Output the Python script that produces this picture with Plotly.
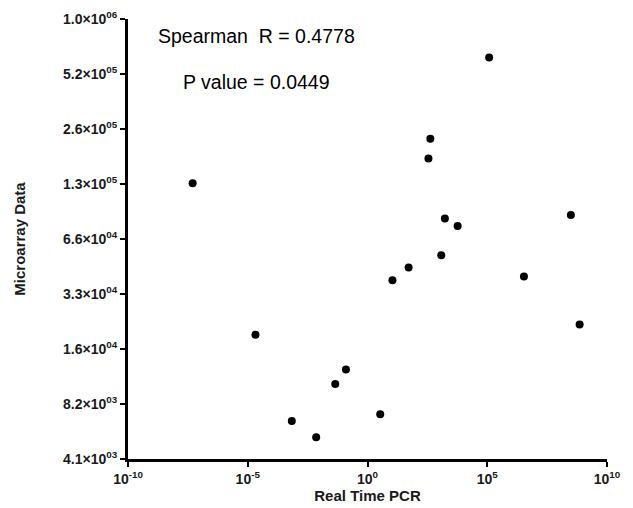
"""Microarray vs real-time PCR scatter (log-log)."""

import plotly.graph_objects as go

# data
pcr_values = [
    1.2e5, 4.2e2, 3.5e2, 5.0e-8, 1.7e3, 5.8e3, 3.1e8, 1.2e3, 5.2e1,
    1.1e1, 3.4e6, 7.2e8, 2.1e-5, 1.26e-1, 4.5e-2, 6.9e-4, 7.2e-3, 3.4e0,
]
microarray_values = [
    645000, 231800, 181000, 132300, 84800, 77300, 88800, 53400, 45700,
    39000, 40800, 22300, 19600, 12640, 10550, 6620, 5380, 7190,
]

y_tickvals = [4096 * 2 ** k for k in range(9)]
y_ticktext = [
    "4.1×10<sup>03</sup>", "8.2×10<sup>03</sup>", "1.6×10<sup>04</sup>",
    "3.3×10<sup>04</sup>", "6.6×10<sup>04</sup>", "1.3×10<sup>05</sup>",
    "2.6×10<sup>05</sup>", "5.2×10<sup>05</sup>", "1.0×10<sup>06</sup>",
]
x_tickvals = [1e-10, 1e-5, 1e0, 1e5, 1e10]
x_ticktext = ["10<sup>-10</sup>", "10<sup>-5</sup>", "10<sup>0</sup>",
              "10<sup>5</sup>", "10<sup>10</sup>"]

font_name = "Liberation Sans"

# page body has an 8px margin, so the figure is drawn 8px in from the corner
fig_w, fig_h = 625, 500
margin = {"l": 120, "r": 26, "t": 11, "b": 49}

fig = go.Figure()
fig.add_trace(
    go.Scatter(
        x=pcr_values,
        y=microarray_values,
        mode="markers",
        marker={"color": "black", "size": 8},
        showlegend=False,
        cliponaxis=False,
    )
)

axis_common = {
    "type": "log",
    "automargin": False,
    "showline": True,
    "linecolor": "black",
    "linewidth": 3,
    "ticks": "outside",
    "ticklen": 5,
    "tickwidth": 2,
    "tickcolor": "black",
    "showgrid": False,
    "zeroline": False,
    "tickfont": {"family": font_name, "size": 14, "color": "#1a1a1a", "weight": "bold"},
}

fig.update_layout(
    width=fig_w,
    height=fig_h,
    paper_bgcolor="white",
    plot_bgcolor="white",
    margin=margin,
    font={"family": font_name},
    xaxis={
        **axis_common,
        "range": [-10, 10],
        "tickvals": x_tickvals,
        "ticktext": x_ticktext,
        "title": {"text": "<b>Real Time PCR</b>",
                  "font": {"family": font_name, "size": 15, "color": "#1a1a1a"},
                  "standoff": 4},
    },
    yaxis={
        **axis_common,
        "range": [3.6124, 6.0206],
        "tickvals": y_tickvals,
        "ticktext": y_ticktext,
        "title": {"text": "<b>Microarray Data</b>",
                  "font": {"family": font_name, "size": 15, "color": "#1a1a1a"},
                  "standoff": 34},
    },
    annotations=[
        {"text": "Spearman  R = 0.4778", "x": 156, "y": 36, "xref": "paper", "yref": "paper"},
        {"text": "P value = 0.0449", "x": 181, "y": 82, "xref": "paper", "yref": "paper"},
    ],
)

# convert pixel-placed text labels (page pixels) to paper coordinates
plot_left = 8 + margin["l"]
plot_top = 8 + margin["t"]
plot_w = fig_w - margin["l"] - margin["r"]
plot_h = fig_h - margin["t"] - margin["b"]
for ann in fig.layout.annotations:
    ann.x = (ann.x - plot_left) / plot_w
    ann.y = 1 - (ann.y - plot_top) / plot_h
    ann.xanchor = "left"
    ann.yanchor = "middle"
    ann.showarrow = False
    ann.font = {"family": font_name, "size": 19.5, "color": "black"}

fig.update_xaxes(tickangle=0)
fig.write_html("out.html")
